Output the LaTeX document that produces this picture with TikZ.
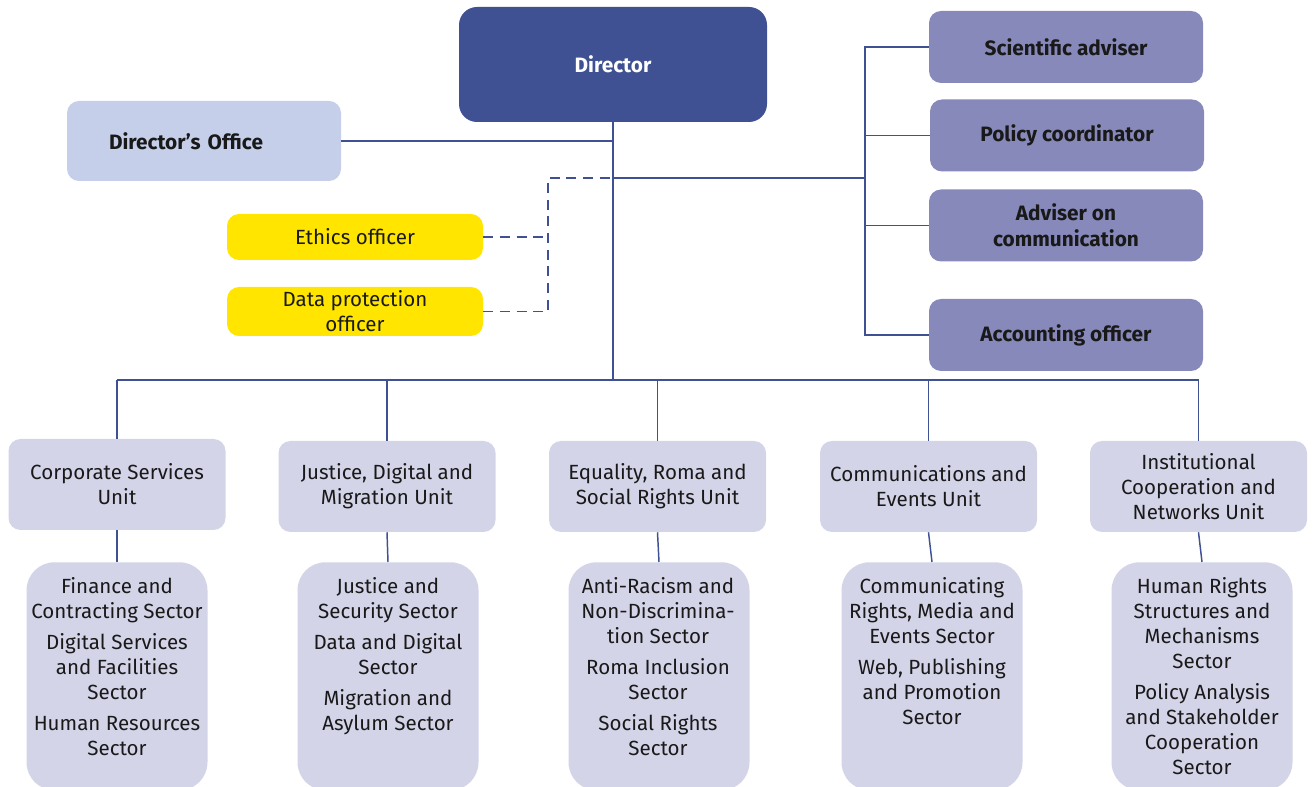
\documentclass[tikz,border=0pt]{standalone}
\usepackage{fontspec}
\setmainfont{Fira Sans}
\definecolor{dirblue}{RGB}{63,81,146}
\definecolor{officeblue}{RGB}{197,207,234}
\definecolor{advblue}{RGB}{135,137,186}
\definecolor{unitgrey}{RGB}{211,212,232}
\definecolor{ethyellow}{RGB}{255,229,0}
\definecolor{linkblue}{RGB}{63,81,146}
\definecolor{textblack}{RGB}{25,25,25}
\tikzset{
  link/.style={draw=linkblue, line width=1.1pt},
  dashlink/.style={link, dash pattern=on 7.5pt off 5pt},
  plain/.style={font=\fontsize{15.4}{18.75}\selectfont, text=textblack},
  heavy/.style={font=\bfseries\fontsize{15.6}{19.5}\selectfont, text=textblack}
}
\begin{document}
\begin{tikzpicture}[x=0.75pt,y=0.75pt,yscale=-1,xscale=1,
  box/.style={rectangle, rounded corners=9pt, inner sep=0pt, align=center},
  unitbox/.style={box, plain, fill=unitgrey, minimum width=162.75pt, minimum height=68.25pt},
  advbox/.style={box, heavy, fill=advblue, minimum width=205.5pt, minimum height=54pt},
  ethbox/.style={box, plain, fill=ethyellow, minimum width=192pt},
  sectorbox/.style={box, fill=unitgrey, rounded corners=21pt, minimum width=135.75pt, minimum height=171pt, anchor=north},
  sectortext/.style={plain, align=center, inner sep=0pt, anchor=north}]
\clip (0,0) rectangle (1314,787);

% Top boxes
\node [box, fill=dirblue, rounded corners=13.5pt, minimum width=231pt, minimum height=86.25pt,
  font=\bfseries\fontsize{15.6}{19.5}\selectfont, text=white] (dir) at (613,64.5) {Director};
\node [box, heavy, fill=officeblue, align=left, text width=142.5pt, inner xsep=31.5pt,
  minimum height=60pt] (office) at (204,141) {Director’s Office};
\node [ethbox, minimum height=34.5pt] (ethics) at (355,237) {Ethics officer};
\node [ethbox, minimum height=36.75pt] (dpo) at (355,311.5) {Data protection\\officer};

% Advisers
\node [advbox] (sci) at (1066,47) {Scientific adviser};
\node [advbox] (pol) at (1067,135.5) {Policy coordinator};
\node [advbox] (adv) at (1066,225.5) {Adviser on\\communication};
\node [advbox] (acc) at (1066,335) {Accounting officer};

% Units
\node [unitbox] (corp) at (117,484.5) {Corporate Services\\Unit};
\node [unitbox] (just) at (387,486.5) {Justice, Digital and\\Migration Unit};
\node [unitbox] (equal) at (657.5,486.5) {Equality, Roma and\\Social Rights Unit};
\node [unitbox] (comm) at (928.5,486.5) {Communications and\\Events Unit};
\node [unitbox] (inst) at (1198.5,486.5) {Institutional\\Cooperation and\\Networks Unit};

% Sectors
\node [sectorbox] (corpsec) at (117,562) {};
\node [sectorbox] (justsec) at (388,562) {};
\node [sectorbox] (equalsec) at (659,562) {};
\node [sectorbox] (commsec) at (932,562) {};
\node [sectorbox] (instsec) at (1202,562) {};

% Text Node
\node [sectortext] (corptext) at (117,577) {Finance and\\Contracting Sector\\[4.5pt]Digital Services\\and Facilities\\Sector\\[4.5pt]Human Resources\\Sector};
% Text Node
\node [sectortext] (justtext) at (388,577) {Justice and\\Security Sector\\[4.5pt]Data and Digital\\Sector\\[4.5pt]Migration and\\Asylum Sector};
% Text Node
\node [sectortext] (equaltext) at (658,577) {Anti-Racism and\\Non-Discrimina-\\tion Sector\\[4.5pt]Roma Inclusion\\Sector\\[4.5pt]Social Rights\\Sector};
% Text Node
\node [sectortext] (commtext) at (932,577) {Communicating\\Rights, Media and\\Events Sector\\[4.5pt]Web, Publishing\\and Promotion\\Sector};
% Text Node
\node [sectortext] (insttext) at (1202,577) {Human Rights\\Structures and\\Mechanisms\\Sector\\[4.5pt]Policy Analysis\\and Stakeholder\\Cooperation\\Sector};

% Junctions
\coordinate (bus) at (613,380);
\coordinate (split) at (613,178);
\coordinate (dashtop) at (548,178);
\coordinate (rail) at (865,178);

%Straight Lines
\draw [link] (dir.south) -- (bus);
\draw [link] (office.east) -- (office.east -| dir.south);
\draw [link] (split) -- (rail);
\draw [link] (sci.west) -- (sci.west -| rail) |- (acc.west);
\draw [link] (pol.west) -- (pol.west -| rail);
\draw [link] (adv.west) -- (adv.west -| rail);

%Dashed Lines
\draw [dashlink] (ethics.east) -- (ethics.east -| dashtop);
\draw [dashlink] (dpo.east) -| (dashtop) -- (split);

%Straight Lines
\draw [link] (corp.north |- bus) -- (inst.north |- bus);
\foreach \u in {corp,just,equal,comm,inst}
  \draw [link] (\u.north |- bus) -- (\u.north);
\foreach \u in {corp,just,equal,comm,inst}
  \draw [link] (\u.south) -- (\u sec.north);

\end{tikzpicture}
\end{document}
